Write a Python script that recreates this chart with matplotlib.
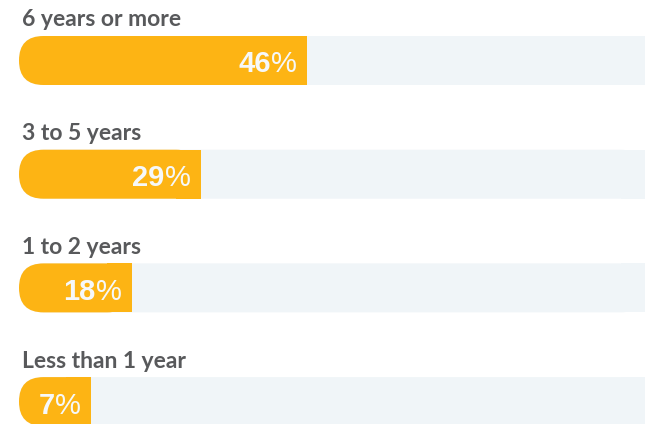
import matplotlib.pyplot as plt
from matplotlib.patches import FancyBboxPatch, Rectangle

# tenure groups, top to bottom
categories = ["6 years or more", "3 to 5 years", "1 to 2 years", "Less than 1 year"]
values = [46, 29, 18, 7]

ORANGE = "#FDB414"
TRACK = "#F0F5F8"
LABEL = "#58595B"
NUM = "#F6F8F9"

W, H = 645, 424
px_per_x = 6.26      # pixels per percent point
px_per_y = 113.7     # pixels between bar rows
bar_h = 49 / px_per_y
min_len = 11.5       # short bars still leave room for the label

fig = plt.figure(figsize=(W / 100, H / 100), dpi=100)
ax = fig.add_axes([19 / W, 0, 1 - 19 / W, 1])
ax.set_xlim(0, (W - 19) / px_per_x)
ax.set_ylim((H - 60.5) / px_per_y, -60.5 / px_per_y)
ax.axis("off")

aspect = px_per_x / px_per_y
radius = bar_h / 2 / aspect


def left_round_bar(y, length, color):
    # rounded box, then a plain rectangle to square off the right end
    box = FancyBboxPatch((0, y - bar_h / 2), length, bar_h,
                         boxstyle=f"round,pad=0,rounding_size={radius}",
                         mutation_aspect=aspect, fc=color, ec="none", lw=0)
    ax.add_patch(box)
    ax.add_patch(Rectangle((length - radius, y - bar_h / 2), radius, bar_h,
                           fc=color, ec="none", lw=0))


for i, (cat, val) in enumerate(zip(categories, values)):
    left_round_bar(i, 100, TRACK)
    length = max(val, min_len)
    left_round_bar(i, length, ORANGE)

    ax.text(3 / px_per_x, i - bar_h / 2 - 9.5 / px_per_y, cat, ha="left", va="baseline",
            fontsize=16.5, fontweight="bold", family="Lato", color=LABEL)

    # percent sign a little lighter than the number, number placed against it
    pct = ax.text(length - 10 / px_per_x, i + 12 / px_per_y, "%", ha="right", va="baseline",
                  fontsize=21, fontweight="normal", family="Liberation Sans", color=NUM)
    ax.annotate(f"{val}", xy=(0, 0), xycoords=pct, ha="right", va="bottom",
                fontsize=21, fontweight="bold", family="Liberation Sans", color=NUM)

fig.savefig("out.png", dpi=100)
